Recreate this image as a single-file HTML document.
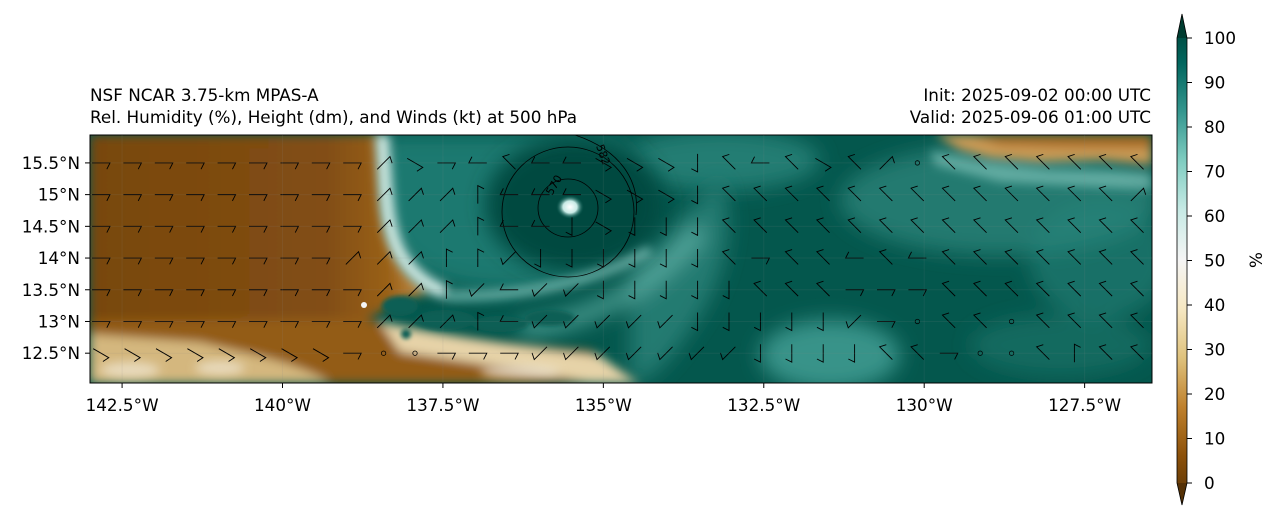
<!DOCTYPE html>
<html><head><meta charset="utf-8">
<style>
html,body{margin:0;padding:0;background:#fff;}
svg{display:block;font-family:"DejaVu Sans","Liberation Sans",sans-serif;}
</style></head>
<body>
<svg id="fig" width="1280" height="520" viewBox="0 0 1280 520">
<defs>
  <clipPath id="plotclip"><rect x="90" y="135" width="1062" height="248"/></clipPath>
  <filter id="blur10" x="-30%" y="-30%" width="160%" height="160%"><feGaussianBlur stdDeviation="10"/></filter>
  <filter id="blur5" x="-30%" y="-30%" width="160%" height="160%"><feGaussianBlur stdDeviation="5"/></filter>
  <filter id="blur2" x="-30%" y="-30%" width="160%" height="160%"><feGaussianBlur stdDeviation="2"/></filter>
  <linearGradient id="cbgrad" x1="0" y1="1" x2="0" y2="0">
    <stop offset="0" stop-color="#543005"/><stop offset="0.1" stop-color="#8c510a"/>
    <stop offset="0.2" stop-color="#bf812d"/><stop offset="0.3" stop-color="#dfc27d"/>
    <stop offset="0.4" stop-color="#f6e8c3"/><stop offset="0.5" stop-color="#f5f5f5"/>
    <stop offset="0.6" stop-color="#c7eae5"/><stop offset="0.7" stop-color="#80cdc1"/>
    <stop offset="0.8" stop-color="#35978f"/><stop offset="0.9" stop-color="#01665e"/>
    <stop offset="1" stop-color="#003c30"/>
  </linearGradient>
  <linearGradient id="dryGrad" x1="0" y1="0" x2="1" y2="0">
    <stop offset="0" stop-color="#784710"/><stop offset="0.7" stop-color="#824e12"/>
    <stop offset="0.88" stop-color="#9a6118"/><stop offset="1" stop-color="#c99550"/>
  </linearGradient>
  <radialGradient id="eye" cx="0.5" cy="0.5" r="0.5">
    <stop offset="0" stop-color="#ffffff"/><stop offset="0.5" stop-color="#c7eae5"/><stop offset="1" stop-color="#035a50" stop-opacity="0"/>
  </radialGradient>
</defs>

<g id="field" clip-path="url(#plotclip)">
  <rect x="90" y="135" width="1062" height="248" fill="#04574d"/>
  <g filter="url(#blur10)">
    <ellipse cx="1000" cy="200" rx="160" ry="55" fill="#2b857b" opacity="0.75"/>
    <ellipse cx="1100" cy="260" rx="70" ry="60" fill="#2b857b" opacity="0.55"/>
    <ellipse cx="830" cy="355" rx="70" ry="35" fill="#3d9a90" opacity="0.9"/>
    <ellipse cx="1060" cy="345" rx="90" ry="30" fill="#237a70" opacity="0.55"/>
    <ellipse cx="720" cy="160" rx="100" ry="30" fill="#2f8a80" opacity="0.75"/>
  </g>
  <g filter="url(#blur5)">
    <path d="M935,135 L1152,135 L1152,165 L1100,160 L1040,162 L990,158 L960,150 Z" fill="#c99a55"/>
    <path d="M970,135 L1152,135 L1152,148 L1060,147 L1000,145 Z" fill="#a86a22"/>
    <path d="M930,150 L980,162 L1050,170 L1152,172 L1152,190 L1000,182 L935,165 Z" fill="#8ccdc3" opacity="0.6"/>
  </g>
  <g filter="url(#blur10)">
    <path d="M385,135 C370,200 380,250 430,275 C490,300 570,290 630,250 C665,215 650,160 610,135 Z" fill="#1f7d74" opacity="0.9"/>
    <path d="M630,260 C670,230 700,200 720,180 C740,230 720,290 690,330 C670,360 650,383 630,383 Z" fill="#2a857b" opacity="0.8"/>
    <path d="M520,330 C600,320 660,280 700,230" fill="none" stroke="#6cbdb2" stroke-width="16" opacity="0.7"/>
  </g>
  <g filter="url(#blur10)">
    <ellipse cx="575" cy="205" rx="90" ry="68" fill="#014a41"/>
  </g>
  <g filter="url(#blur5)">
    <path d="M90,135 L378,135 C382,170 378,205 388,235 C396,262 410,280 430,292 C400,300 380,310 360,325 C300,335 200,335 90,330 Z" fill="url(#dryGrad)"/>
    <path d="M90,320 L360,318 C420,330 500,345 590,350 C610,362 625,375 640,383 L90,383 Z" fill="#935b18"/>
    <path d="M90,334 L200,342 C240,352 300,362 330,383 L90,383 Z" fill="#d4b77e"/>
    <path d="M380,322 C450,338 530,348 600,356 C620,370 630,380 640,383 L590,383 C540,372 470,362 400,352 Z" fill="#e6d3a8"/>
  </g>
  <g filter="url(#blur5)" fill="#f1ead8" opacity="0.7">
    <ellipse cx="130" cy="370" rx="30" ry="8"/>
    <ellipse cx="220" cy="368" rx="25" ry="7"/>
    <ellipse cx="520" cy="372" rx="40" ry="7"/>
  </g>
  <g filter="url(#blur5)">
    <path d="M382,135 C386,180 384,220 398,250 C408,270 425,285 445,292" fill="none" stroke="#d6efea" stroke-width="14" opacity="0.95"/>
    <path d="M445,296 C520,298 600,280 650,250" fill="none" stroke="#8ccdc3" stroke-width="10" opacity="0.7"/>
  </g>
  <g filter="url(#blur2)" fill="#0b5e55">
    <ellipse cx="400" cy="306" rx="18" ry="10"/>
    <ellipse cx="445" cy="320" rx="30" ry="10"/>
    <ellipse cx="500" cy="324" rx="28" ry="8"/>
    <ellipse cx="550" cy="318" rx="25" ry="8"/>
    <ellipse cx="406" cy="334" rx="5" ry="5"/>
  </g>
  <circle cx="364" cy="305" r="3" fill="#f5f5f5"/>
  <ellipse cx="570" cy="207" rx="14" ry="12" fill="url(#eye)"/>
</g>

<g id="contours" clip-path="url(#plotclip)" fill="none" stroke="#000" stroke-width="0.8">
  <ellipse cx="568" cy="212" rx="66" ry="65"/>
  <ellipse cx="568" cy="208" rx="30" ry="29"/>
  <path d="M575,135 C620,150 640,180 636,215"/>
</g>
<text x="596" y="146" font-size="11" transform="rotate(70 596 146)">582</text>
<text x="552" y="196" font-size="11" transform="rotate(-60 552 196)">570</text>

<g id="barbs"></g>

<rect x="90" y="135" width="1062" height="248" fill="none" stroke="#000" stroke-width="1"/>

<g id="xaxis"></g>
<g id="yaxis"></g>

<text x="90" y="101" font-size="16.8">NSF NCAR 3.75-km MPAS-A</text>
<text x="90" y="123" font-size="16.8">Rel. Humidity (%), Height (dm), and Winds (kt) at 500 hPa</text>
<text x="1151" y="101" font-size="16.8" text-anchor="end">Init: 2025-09-02 00:00 UTC</text>
<text x="1151" y="123" font-size="16.8" text-anchor="end">Valid: 2025-09-06 01:00 UTC</text>

<g id="colorbar">
  <path d="M1177,38 L1182,14 L1187,38 L1187,483 L1182,505 L1177,483 Z" fill="url(#cbgrad)" stroke="none"/>
  <path d="M1177,38 L1182,14 L1187,38 Z" fill="#003c30"/>
  <path d="M1177,483 L1182,505 L1187,483 Z" fill="#543005"/>
  <path d="M1177,38 L1182,14 L1187,38 L1187,483 L1182,505 L1177,483 Z" fill="none" stroke="#000" stroke-width="0.8"/>
  <g id="cbticks"></g>
  <text x="1262" y="260" font-size="16.8" transform="rotate(-90 1262 260)" text-anchor="middle">%</text>
</g>

<script>
const lonTicks = [142.5, 140, 137.5, 135, 132.5, 130, 127.5];
const latTicks = [15.5, 15, 14.5, 14, 13.5, 13, 12.5];
const cbTicks = [0, 10, 20, 30, 40, 50, 60, 70, 80, 90, 100];
// wind barb shaft directions per row (N,E,S,W, 1=NE,2=SE,3=SW,4=NW, o=calm)
const barbRow0 = "EEEEEEEEE12EW4WW222S4W4241o44444441";
const barbRow1 = "EEEEEEEEE111NWWW222S44444444444441";
const barbRow2 = "EEEEEEEEE111NWWS2SSS444444444444444";
const barbRow3 = "EEEEEEEE111NN3SSSSSS4E44W4W4444444";
const barbRow4 = "EEEEEEEEE11N3W33SSSSS444EEE44444444";
const barbRow5 = "EEEEEEEEE111NW33333SSSSS3Eo44o44444";
const barbRow6 = "22222222EooEEE3333333SSSS44Eoo4N4444";
const barbRows = [barbRow0, barbRow1, barbRow2, barbRow3, barbRow4, barbRow5, barbRow6];
const barbLats = [15.5, 15.0, 14.5, 14.0, 13.5, 13.0, 12.5];

const NS = "http://www.w3.org/2000/svg";
const lonW = 143.0, lonE = 126.45, latN = 15.94, latS = 12.03;
function xOf(lonWest){ return 90 + (lonW - lonWest) / (lonW - lonE) * 1062; }
function yOf(lat){ return 135 + (latN - lat) / (latN - latS) * 248; }
function cbY(v){ return 483 - v / 100 * 445; }
function mk(tag, attrs, parent){ const e = document.createElementNS(NS, tag); for (const k in attrs) e.setAttribute(k, attrs[k]); parent.appendChild(e); return e; }

const xa = document.getElementById('xaxis');
lonTicks.forEach(v => {
  const x = xOf(v);
  const t = mk('line', {x1:x, y1:383, x2:x, y2:388, stroke:'#000'}, xa);
  
  
  const l = mk('text', {x:x, y:411, 'font-size':16.8, 'text-anchor':'middle'}, xa);
  l.textContent = v + '°W';
  
  
  const g = mk('line', {x1:x, y1:135, x2:x, y2:383, stroke:'#888', 'stroke-opacity':0.12}, xa);
  
  
});
const ya = document.getElementById('yaxis');
latTicks.forEach(v => {
  const y = yOf(v);
  const t = mk('line', {x1:85, y1:y, x2:90, y2:y, stroke:'#000'}, ya);
  
  
  const l = mk('text', {x:80, y:y+6, 'font-size':16.8, 'text-anchor':'end'}, ya);
  l.textContent = v + '°N';
  
  
  const g = mk('line', {x1:90, y1:y, x2:1152, y2:y, stroke:'#888', 'stroke-opacity':0.12}, ya);
  
  
});
const cb = document.getElementById('cbticks');
cbTicks.forEach(v => {
  const y = cbY(v);
  const t = mk('line', {x1:1187, y1:y, x2:1192, y2:y, stroke:'#000'}, cb);
  
  
  const l = mk('text', {x:1204, y:y+6, 'font-size':16.8}, cb);
  l.textContent = v;
  
  
});

const angles = {N:-90, E:0, S:90, W:180, '1':-45, '2':30, '3':135, '4':-135};
const bg = document.getElementById('barbs');
barbRows.forEach((row, r) => {
  const y = yOf(barbLats[r]);
  for (let c = 0; c < row.length; c++) {
    const x = 101 + c * 31.4;
    if (x > 1145) break;
    const ch = row[c];
    if (ch === 'o') {
      const o = mk('circle', {cx:x, cy:y, r:2.2, fill:'none', stroke:'#000', 'stroke-width':0.8}, bg);
      
      
      continue;
    }
    const a = angles[ch] * Math.PI / 180;
    const L = 18;
    const ox = x - Math.cos(a) * L / 2, oy = y - Math.sin(a) * L / 2;
    const ex = ox + Math.cos(a) * L, ey = oy + Math.sin(a) * L;
    const fa = a + Math.PI * 0.65;
    const fx = ex + Math.cos(fa) * 7, fy = ey + Math.sin(fa) * 7;
    const p = mk('path', {d:`M${ox},${oy} L${ex},${ey} L${fx},${fy}`, fill:'none', stroke:'#000', 'stroke-width':0.9}, bg);
    
    
  }
});
</script>
</svg>
</body></html>
